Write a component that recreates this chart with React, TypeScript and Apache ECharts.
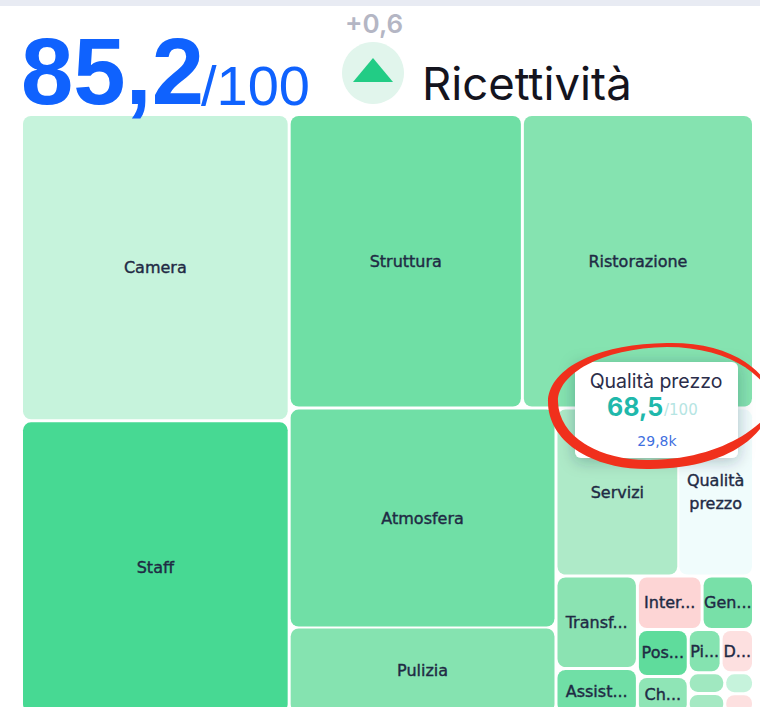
import React, { useEffect, useRef } from "react";
import * as echarts from "echarts";

const names = ["Camera", "Staff", "Struttura", "Ristorazione", "Atmosfera", "Pulizia", "Servizi", "Qualità\nprezzo", "Transf...", "Assist...", "Inter...", "Gen...", "Pos...", "Ch...", "Pi...", "D...", "Si...", "S...", " ", "P..."];
const areas = [80.6, 77, 67.3, 66.7, 57.6, 22.5, 20.2, 12.4, 7.4, 3.6, 3.4, 2.7, 2.35, 1.85, 1.4, 1.38, 0.74, 0.72, 0.59, 0.56];
const colors = ["#c6f3dc", "#47d993", "#6fdfa5", "#85e3b0", "#70dfa6", "#85e3b0", "#aeeac8", "#f0fcfc", "#8be3b2", "#70dfa6", "#fdd5d5", "#78e0a8", "#5fdc9c", "#8fe5b6", "#85e3b0", "#fde0e0", "#a0e8c0", "#a5e9c3", "#c6f3dc", "#fde0e0"];
const stackedPairs = [[4, 5], [6, 7]];

const score = "85,2";
const scoreMax = "/100";
const delta = "+0,6";
const title = "Ricettività";
const tipName = "Qualità prezzo";
const tipScore = "68,5";
const tipMax = "/100";
const tipCount = "29,8k";

const SCRIBBLE = "M548 402 C548 372 590 344 667 343 C710 342 745 355 763 378 L763 425 C745 450 710 468 650 469 C590 470 548 440 548 402 Z M558 402 C559 437 600 461 650 460 C705 459 742 440 763 420 L763 383 C745 361 710 347 667 347 C600 348 557 375 558 402 Z";
echarts.graphic.registerShape("scribble", echarts.graphic.extendPath(SCRIBBLE, {}));

const txt = (text: string, x: number, y: number, fontSize: number, fill: string, fontWeight: any = 400, fontFamily = "Inter, sans-serif", textAlign = "left") => ({
  type: "text", x, y, z: 100, style: { text, fontSize, fill, fontWeight, fontFamily, textAlign, textVerticalAlign: "middle" },
});

const leaf = (i: number) => ({
  name: names[i],
  value: areas[i],
  itemStyle: { color: colors[i], borderRadius: 8 },
});

const buildTree = () => {
  const out: any[] = [];
  names.forEach((_, i) => {
    const pair = stackedPairs.find((p) => p[0] === i);
    if (pair) {
      out.push({
        name: pair.map((k) => names[k]).join(" + "),
        itemStyle: { color: "#ffffff", borderWidth: 0, gapWidth: 2 },
        children: pair.map(leaf),
      });
    } else if (!stackedPairs.some((p) => p[1] === i)) {
      out.push(leaf(i));
    }
  });
  return out;
};

export default function App() {
  const ref = useRef<HTMLDivElement>(null);
  useEffect(() => {
    document.body.style.margin = "0";
    const chart = echarts.init(ref.current!, null, { renderer: "svg" });
    const font = "Inter, sans-serif";
    const deja = "DejaVu Sans, sans-serif";
    chart.setOption({
      animation: false,
      backgroundColor: "#ffffff",
      series: [{
        type: "treemap",
        left: 23, top: 116, width: 729, height: 596,
        roam: false, nodeClick: false,
        squareRatio: 1,
        sort: false,
        breadcrumb: { show: false },
        label: { show: true, position: "inside", align: "center", verticalAlign: "middle", color: "#1f2a44", fontFamily: deja, fontWeight: 400, fontSize: 16, overflow: "none", padding: 0, lineHeight: 23, textBorderColor: "#1f2a44", textBorderWidth: 0.4 },
        upperLabel: { show: false },
        itemStyle: { gapWidth: 3, borderWidth: 0, borderColor: "#ffffff", borderRadius: 8 },
        levels: [
          { itemStyle: { gapWidth: 3, borderWidth: 0, borderColor: "#ffffff" } },
          { itemStyle: { gapWidth: 2, borderWidth: 0, borderColor: "#ffffff" } },
          { itemStyle: { gapWidth: 3, borderWidth: 0, borderColor: "#ffffff" } },
        ],
        data: buildTree(),
      }],
      graphic: [
        { type: "rect", z: 100, shape: { x: 0, y: 0, width: 760, height: 6 }, style: { fill: "#e8ebf3" } },
        txt(score, 21, 71, 94, "#0f62fe", 700, "Liberation Sans, sans-serif"),
        txt(scoreMax, 201, 85, 56, "#0f62fe", 400, "Liberation Sans, sans-serif"),
        txt(delta, 345, 23, 26, "#b4b6c4", 600),
        { type: "circle", z: 100, shape: { cx: 373, cy: 73, r: 31 }, style: { fill: "#e1f5ec" } },
        { type: "polygon", z: 101, shape: { points: [[373, 58], [353, 82], [393, 82]] }, style: { fill: "#22cc85" } },
        txt(title, 422, 83, 45.5, "#14141e", 400),
        { type: "rect", z: 110, shape: { x: 575, y: 362, width: 163, height: 96, r: 6 }, style: { fill: "#ffffff", shadowBlur: 16, shadowColor: "rgba(30,50,60,0.3)", shadowOffsetY: 3 } },
        { ...txt(tipName, 656, 381, 19.5, "#2b2d4a", 400, font, "center"), z: 111 },
        { ...txt(tipScore, 607, 407, 25, "#1fb8ab", 700), z: 111 },
        { ...txt(tipMax, 664, 410, 15, "#b5e5e3", 400, deja), z: 111 },
        { ...txt(tipCount, 657, 441, 14, "#3f6fe0", 400, deja, "center"), z: 111 },
        { type: "scribble", z: 120, style: { fill: "#f0301c" } },
      ],
    });
    return () => chart.dispose();
  }, []);
  return <div ref={ref} style={{ position: "fixed", left: 0, top: 0, width: 760, height: 707 }} />;
}
